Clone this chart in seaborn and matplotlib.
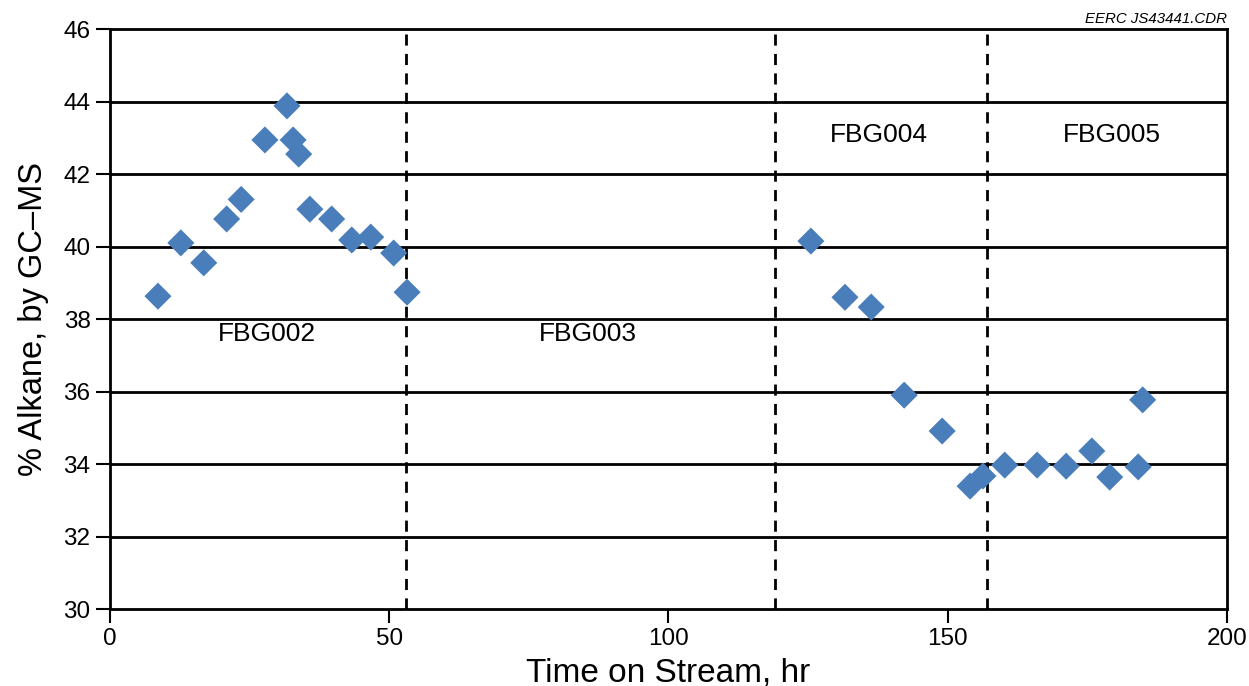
import matplotlib
matplotlib.use("Agg")
import matplotlib.pyplot as plt
import seaborn as sns
import pandas as pd

time_hr = [8.6, 12.7, 16.8, 20.9, 23.5, 27.75, 31.7, 32.8, 33.8, 35.8, 39.7, 43.3, 46.7, 50.8, 53.2,
           125.5, 131.6, 136.3, 142.2, 149.0, 154.0, 156.3, 160.2, 166.0, 171.2, 175.8, 179.0, 184.1, 184.9]
alkane_pct = [38.63, 40.1, 39.55, 40.76, 41.3, 42.94, 43.88, 42.94, 42.55, 41.03, 40.76, 40.18, 40.26, 39.82, 38.74,
              40.15, 38.6, 38.33, 35.9, 34.91, 33.39, 33.67, 33.97, 33.97, 33.94, 34.36, 33.64, 33.92, 35.77]
boundaries = [53, 119, 157]
run_labels = ["FBG002", "FBG003", "FBG004", "FBG005"]
run_label_x = [28.1, 85.6, 137.7, 179.4]
run_label_y = [37.6, 37.6, 43.08, 43.08]
x_ticks = [0, 50, 100, 150, 200]
y_ticks = [30, 32, 34, 36, 38, 40, 42, 44, 46]

sns.set_style("white")
plt.rcParams['font.family'] = ['Liberation Sans', 'DejaVu Sans']

fig = plt.figure(figsize=(12.49, 6.86), dpi=100)
ax = fig.add_axes([0.088, 0.1122, 0.8944, 0.8455])

for yv in y_ticks[1:-1]:
    ax.axhline(yv, color='black', lw=2, zorder=1)
for b in boundaries:
    ax.axvline(b, color='black', lw=2, ls=(0, (4, 3)), zorder=1)

df = pd.DataFrame({"t": time_hr, "a": alkane_pct})
sns.scatterplot(data=df, x="t", y="a", marker="D", s=190, color="#4a7ebb",
                edgecolor="none", ax=ax, zorder=3)

for lab, lx, ly in zip(run_labels, run_label_x, run_label_y):
    ax.text(lx, ly, lab, ha='center', va='center', fontsize=19, color='black')

ax.set_xlim(0, 200)
ax.set_ylim(30, 46)
ax.set_xticks(x_ticks)
ax.set_yticks(y_ticks)
ax.tick_params(axis='both', which='major', bottom=True, left=True, direction='out',
               length=10, width=1.5, labelsize=17.5, color='black', labelcolor='black', pad=4)
for sp in ax.spines.values():
    sp.set_color('black')
    sp.set_linewidth(2)
ax.set_xlabel("Time on Stream, hr", fontsize=24, labelpad=5, color='black')
ax.set_ylabel("% Alkane, by GC\u2013MS", fontsize=23.5, labelpad=10, color='black')

fig.text(0.982, 0.962, "EERC JS43441.CDR", ha='right', va='bottom', fontsize=10.8,
         style='italic', color='black')

fig.savefig("out.png", dpi=100)
